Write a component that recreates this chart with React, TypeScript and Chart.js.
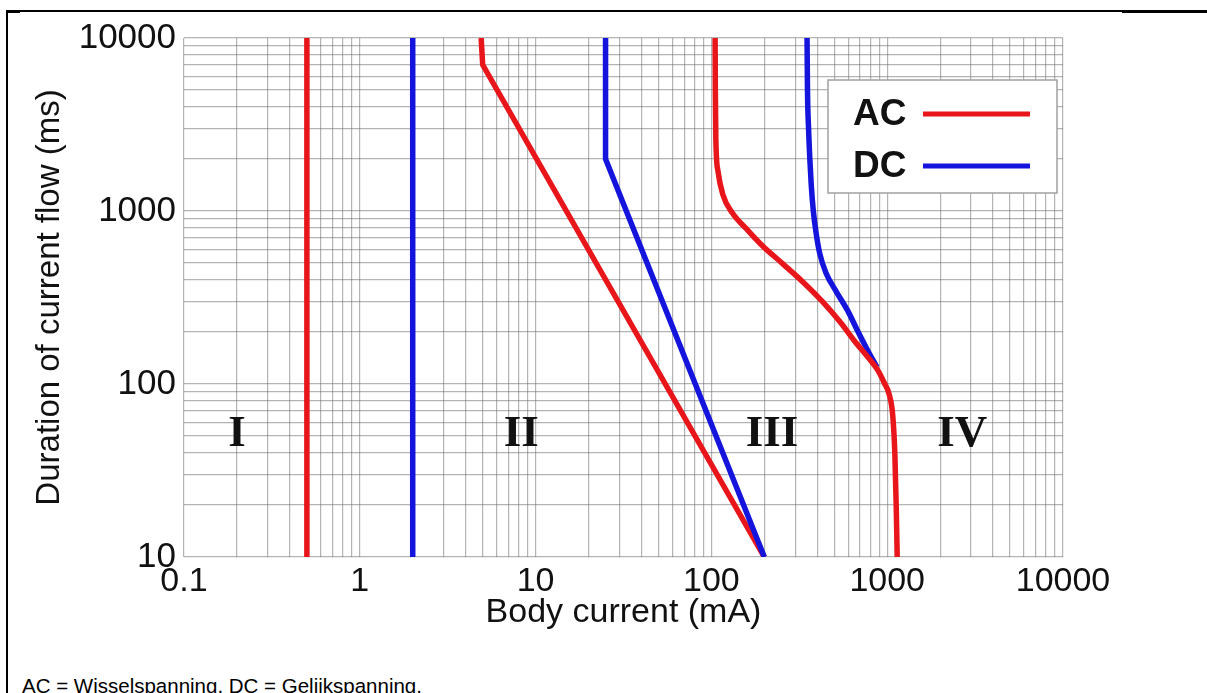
import React, { useEffect, useRef } from 'react';
import { Chart, registerables } from 'chart.js';

Chart.register(...registerables);

// ---- data (body current in mA, duration in ms) ----
const acPerceptionCurrent = [0.5, 0.5];
const acPerceptionTime = [10000, 10];

const dcPerceptionCurrent = [2, 2];
const dcPerceptionTime = [10000, 10];

const acReactionCurrent = [4.9, 5, 200];
const acReactionTime = [10000, 7000, 10];

const dcReactionCurrent = [25, 25, 200];
const dcReactionTime = [10000, 2000, 10];

const acFibrillationCurrent = [105, 105.3, 106, 109, 116, 132, 158, 195, 255, 335, 430, 540, 650, 780, 880, 960, 1030, 1075, 1105, 1125, 1140];
const acFibrillationTime = [10000, 5000, 2600, 1700, 1250, 970, 790, 630, 495, 385, 298, 228, 178, 142, 121, 102, 86, 66, 40, 20, 10];

const dcFibrillationCurrent = [350, 352, 357, 363, 370, 380, 393, 413, 448, 515, 600, 675, 765, 875];
const dcFibrillationTime = [10000, 5000, 3000, 2000, 1400, 1000, 760, 570, 440, 340, 262, 205, 160, 125];

const zoneNames = ['I', 'II', 'III', 'IV'];
const zoneCurrent = [0.2, 8.3, 221, 2670];
const zoneTime = [51, 51, 51, 51];

const legendLabels = ['AC', 'DC'];
const legendColors = ['#e8161b', '#1414dc'];

const xMajorValues = [0.1, 1, 10, 100, 1000, 10000];
const xMajorLabels = ['0.1', '1', '10', '100', '1000', '10000'];
const yMajorValues = [10, 100, 1000, 10000];
const yMajorLabels = ['10', '100', '1000', '10000'];
const mantissas = [1, 2, 3, 4, 5, 6, 7, 8, 9];

const RED = legendColors[0];
const BLUE = legendColors[1];
const SANS = "'Liberation Sans', Arial, sans-serif";

function pts(xs: number[], ys: number[]) {
  return xs.map((x, i) => ({ x, y: ys[i] }));
}

function gridTicks(majors: number[]) {
  const out: { value: number }[] = [];
  for (let d = 0; d < majors.length - 1; d++) {
    for (const m of mantissas) out.push({ value: majors[d] * m });
  }
  out.push({ value: majors[majors.length - 1] });
  return out;
}

function labelFor(v: number, majors: number[], labels: string[]) {
  const i = majors.findIndex((m) => Math.abs(v - m) / m < 1e-6);
  return i >= 0 ? labels[i] : '';
}

const overlayPlugin = {
  id: 'overlay',
  afterDatasetsDraw(chart: any) {
    const { ctx, chartArea, scales } = chart;
    ctx.save();
    // zone numerals
    ctx.fillStyle = '#111';
    ctx.font = "bold 45px 'Liberation Serif', 'Times New Roman', serif";
    ctx.textAlign = 'center';
    ctx.textBaseline = 'middle';
    zoneNames.forEach((name, i) => {
      ctx.fillText(name, scales.x.getPixelForValue(zoneCurrent[i]), scales.y.getPixelForValue(zoneTime[i]));
    });
    // legend box
    const bx = chartArea.right - 235;
    const by = chartArea.top + 42;
    const bw = 229;
    const bh = 113;
    ctx.fillStyle = '#ffffff';
    ctx.fillRect(bx, by, bw, bh);
    ctx.strokeStyle = '#a0a0a0';
    ctx.lineWidth = 1.5;
    ctx.strokeRect(bx, by, bw, bh);
    ctx.font = `bold 37px ${SANS}`;
    ctx.textAlign = 'left';
    legendLabels.forEach((lab, i) => {
      const cy = by + 34 + i * 52;
      ctx.fillStyle = '#111';
      ctx.fillText(lab, bx + 25, cy + 1);
      ctx.strokeStyle = legendColors[i];
      ctx.lineWidth = 5;
      ctx.beginPath();
      ctx.moveTo(bx + 95, cy);
      ctx.lineTo(bx + 202, cy);
      ctx.stroke();
    });
    ctx.restore();
  },
};

export default function App() {
  const canvasRef = useRef<HTMLCanvasElement | null>(null);

  useEffect(() => {
    if (!canvasRef.current) return;
    const lineCommon = { pointRadius: 0, borderWidth: 5.5, fill: false };
    const chart = new Chart(canvasRef.current, {
      type: 'line',
      data: {
        datasets: [
          { label: 'AC', data: pts(acFibrillationCurrent, acFibrillationTime), borderColor: RED, cubicInterpolationMode: 'monotone', ...lineCommon },
          { label: 'DC', data: pts(dcReactionCurrent, dcReactionTime), borderColor: BLUE, tension: 0, ...lineCommon },
          { label: 'AC', data: pts(acReactionCurrent, acReactionTime), borderColor: RED, tension: 0, ...lineCommon },
          { label: 'AC', data: pts(acPerceptionCurrent, acPerceptionTime), borderColor: RED, tension: 0, ...lineCommon },
          { label: 'DC', data: pts(dcPerceptionCurrent, dcPerceptionTime), borderColor: BLUE, tension: 0, ...lineCommon },
          { label: 'DC', data: pts(dcFibrillationCurrent, dcFibrillationTime), borderColor: BLUE, cubicInterpolationMode: 'monotone', ...lineCommon },
        ],
      },
      options: {
        responsive: false,
        animation: false,
        devicePixelRatio: 1,
        layout: { padding: { left: 0, top: 38, right: 144, bottom: 0 } },
        plugins: { legend: { display: false }, tooltip: { enabled: false } },
        scales: {
          x: {
            type: 'logarithmic',
            position: 'bottom',
            min: 0.1,
            max: 10000,
            afterBuildTicks: (s: any) => { s.ticks = gridTicks(xMajorValues); },
            afterFit: (s: any) => { s.height = 103; },
            grid: { color: 'rgba(105,105,105,0.5)', lineWidth: 1.2, drawTicks: false },
            border: { display: false },
            ticks: {
              autoSkip: false,
              maxRotation: 0,
              padding: 4,
              color: '#111',
              font: { size: 34, family: SANS },
              callback: (v: any) => labelFor(Number(v), xMajorValues, xMajorLabels),
            },
            title: {
              display: true,
              text: 'Body current (mA)',
              color: '#111',
              font: { size: 34, family: SANS },
              padding: { top: 0, bottom: 27 },
            },
          },
          y: {
            type: 'logarithmic',
            min: 10,
            max: 10000,
            afterBuildTicks: (s: any) => { s.ticks = gridTicks(yMajorValues); },
            afterFit: (s: any) => { s.width = 184; },
            grid: { color: 'rgba(105,105,105,0.5)', lineWidth: 1.2, drawTicks: false },
            border: { display: false },
            ticks: {
              autoSkip: false,
              padding: 8,
              color: '#111',
              font: { size: 35, family: SANS },
              callback: (v: any) => labelFor(Number(v), yMajorValues, yMajorLabels),
            },
            title: {
              display: true,
              text: 'Duration of current flow (ms)',
              color: '#111',
              font: { size: 33, family: SANS },
              padding: { top: 30, bottom: 0 },
            },
          },
        },
      },
      plugins: [overlayPlugin],
    } as any);
    return () => chart.destroy();
  }, []);

  return (
    <div style={{ position: 'absolute', left: 0, top: 0, width: 1207, height: 693, overflow: 'hidden', background: '#fff' }}>
      <canvas ref={canvasRef} width={1207} height={660} style={{ position: 'absolute', left: 0, top: 0 }} />
      <div style={{ position: 'absolute', left: 7, top: 10, width: 1115, height: 1.5, background: '#000' }} />
      <div style={{ position: 'absolute', left: 1122, top: 9.5, width: 85, height: 3, background: '#000' }} />
      <div style={{ position: 'absolute', left: 6, top: 10, width: 2, height: 683, background: '#000' }} />
      <div style={{ position: 'absolute', left: 7, top: 10, width: 13, height: 3, background: '#000' }} />
      <div
        style={{
          position: 'absolute',
          left: 22,
          top: 674,
          fontFamily: SANS,
          fontSize: 20.5,
          color: '#000',
          whiteSpace: 'nowrap',
        }}
      >
        AC = Wisselspanning, DC = Gelijkspanning.
      </div>
    </div>
  );
}
